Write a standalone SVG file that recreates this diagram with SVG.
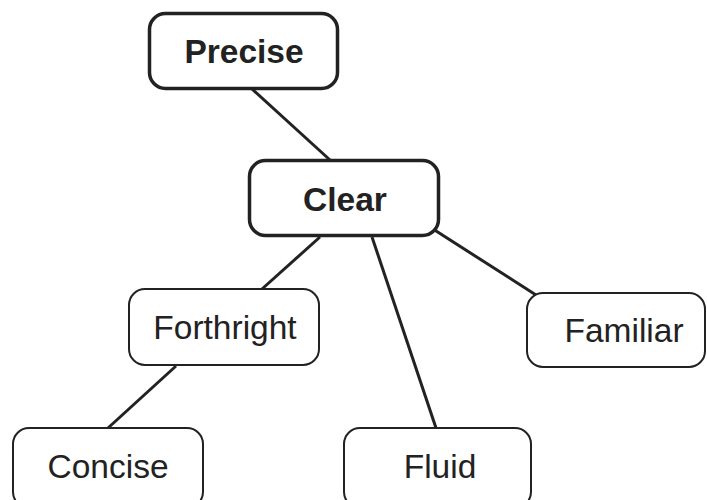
<svg xmlns="http://www.w3.org/2000/svg" width="707" height="500" viewBox="0 0 707 500">
<style>
.box{fill:#fff;stroke:#222;stroke-width:2}
.main{stroke-width:3.5}
.t{font-family:"Liberation Sans",Arial,sans-serif;font-size:33.5px;fill:#222;text-anchor:middle}
.b{font-weight:bold}
.edge{stroke:#222;stroke-width:3;fill:none}
</style>
<rect width="707" height="500" fill="#fff"/>
<g id="connectors">
<line class="edge" x1="252" y1="89" x2="330" y2="160"/>
<line class="edge" x1="320" y1="237" x2="262" y2="289"/>
<line class="edge" x1="372" y1="237" x2="436" y2="428"/>
<line class="edge" x1="433" y1="229" x2="536" y2="295"/>
<line class="edge" x1="176" y1="366" x2="108" y2="428"/>
</g>
<g id="precise"><rect class="box main" x="149.5" y="13.5" width="188" height="75" rx="16"/><text class="t b" x="244" y="63">Precise</text></g>
<g id="clear"><rect class="box main" x="249.5" y="160.5" width="189" height="75" rx="16"/><text class="t b" x="345" y="211">Clear</text></g>
<g id="forthright"><rect class="box" x="129" y="289" width="190" height="76" rx="16"/><text class="t" x="225" y="339">Forthright</text></g>
<g id="familiar"><rect class="box" x="527" y="293" width="178" height="74" rx="16"/><text class="t" x="624" y="342">Familiar</text></g>
<g id="concise"><rect class="box" x="13" y="428" width="190" height="80" rx="16"/><text class="t" x="108" y="478">Concise</text></g>
<g id="fluid"><rect class="box" x="344" y="428" width="187" height="80" rx="16"/><text class="t" x="440" y="478">Fluid</text></g>
</svg>
